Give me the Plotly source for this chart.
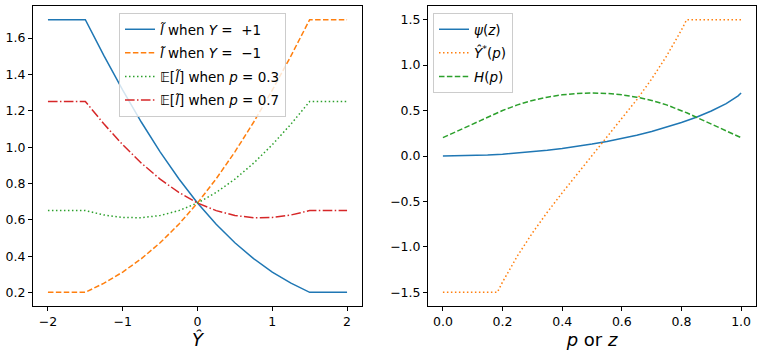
import plotly.graph_objects as go

# ---- Left panel data ----
y_hat = [-2, -1.75, -1.5, -1.25, -1, -0.75, -0.5, -0.25, 0, 0.25, 0.5, 0.75, 1, 1.25, 1.5, 1.75, 2]
loss_pos = [1.7014, 1.7014, 1.7014, 1.5019, 1.3133, 1.1369, 0.9741, 0.8260, 0.6931,
            0.5760, 0.4741, 0.3869, 0.3133, 0.2519, 0.2014, 0.2014, 0.2014]
loss_neg = [0.2014, 0.2014, 0.2014, 0.2519, 0.3133, 0.3869, 0.4741, 0.5760, 0.6931,
            0.8260, 0.9741, 1.1369, 1.3133, 1.5019, 1.7014, 1.7014, 1.7014]
exp_p03 = [0.6514, 0.6514, 0.6514, 0.6269, 0.6133, 0.6119, 0.6241, 0.6510, 0.6931,
           0.7510, 0.8241, 0.9119, 1.0133, 1.1269, 1.2514, 1.2514, 1.2514]
exp_p07 = [1.2514, 1.2514, 1.2514, 1.1269, 1.0133, 0.9119, 0.8241, 0.7510, 0.6931,
           0.6510, 0.6241, 0.6119, 0.6133, 0.6269, 0.6514, 0.6514, 0.6514]

# ---- Right panel data ----
z_vals = [0, 0.05, 0.1, 0.15, 0.2, 0.25, 0.3, 0.35, 0.4, 0.45, 0.5, 0.55, 0.6, 0.65,
          0.7, 0.75, 0.8, 0.85, 0.9, 0.95, 0.975, 0.99, 1.0]
psi_vals = [0, 0.0013, 0.0050, 0.0113, 0.0201, 0.0316, 0.0457, 0.0626, 0.0823, 0.1050,
            0.1308, 0.1599, 0.1927, 0.2294, 0.2704, 0.3164, 0.3680, 0.4267, 0.4946,
            0.5762, 0.6259, 0.6617, 0.6931]
p_vals = [0, 0.05, 0.1, 0.15, 0.1824, 0.2, 0.25, 0.3, 0.35, 0.4, 0.45, 0.5, 0.55, 0.6,
          0.65, 0.7, 0.75, 0.8, 0.8176, 0.85, 0.9, 0.95, 1.0]
yhat_star = [-1.5, -1.5, -1.5, -1.5, -1.5, -1.3863, -1.0986, -0.8473, -0.6190, -0.4055,
             -0.2007, 0, 0.2007, 0.4055, 0.6190, 0.8473, 1.0986, 1.3863, 1.5, 1.5, 1.5, 1.5, 1.5]
h_vals = [0.2014, 0.2764, 0.3514, 0.4264, 0.4751, 0.5004, 0.5623, 0.6109, 0.6474, 0.6730,
          0.6881, 0.6931, 0.6881, 0.6730, 0.6474, 0.6109, 0.5623, 0.5004, 0.4751, 0.4264,
          0.3514, 0.2764, 0.2014]

NB = "\u00a0"
left_names = ["<i>l̃</i> when <i>Y</i>" + NB + "=" + NB + NB + "+1",
              "<i>l̃</i> when <i>Y</i>" + NB + "=" + NB + NB + "−1",
              "𝔼[<i>l̃</i>] when <i>p</i>" + NB + "=" + NB + "0.3",
              "𝔼[<i>l̃</i>] when <i>p</i>" + NB + "=" + NB + "0.7"]
right_names = ["<i>ψ</i>(<i>z</i>)", "<i>Ŷ</i><sup>*</sup>(<i>p</i>)", "<i>H</i>(<i>p</i>)"]

C = ["#1f77b4", "#ff7f0e", "#2ca02c", "#d62728"]
DASHED = "5.5px,2.4px"
DOTTED = "1.5px,2.5px"
DASHDOT = "9.6px,2.4px,1.5px,2.4px"
LW = 1.5
FONT = "DejaVu Sans"
FS = 12.5
LFS = 13.5
W, H = 763, 355

fig = go.Figure()

left_series = [(loss_pos, C[0], "solid"), (loss_neg, C[1], DASHED),
               (exp_p03, C[2], DOTTED), (exp_p07, C[3], DASHDOT)]
for i, (ys, col, dash) in enumerate(left_series):
    fig.add_trace(go.Scatter(x=y_hat, y=ys, mode="lines", name=left_names[i],
                             line=dict(color=col, width=LW, dash=dash),
                             xaxis="x", yaxis="y", legend="legend",
                             legendgroup="L%d" % i))

right_series = [(z_vals, psi_vals, C[0], "solid"), (p_vals, yhat_star, C[1], DOTTED),
                (p_vals, h_vals, C[2], DASHED)]
for i, (xs, ys, col, dash) in enumerate(right_series):
    fig.add_trace(go.Scatter(x=xs, y=ys, mode="lines", name=right_names[i],
                             line=dict(color=col, width=LW, dash=dash),
                             xaxis="x2", yaxis="y2", legend="legend2",
                             legendgroup="R%d" % i))

ax_common = dict(showgrid=False, zeroline=False, showline=True, linecolor="black",
                 linewidth=1, mirror=True, ticks="outside", ticklen=4, tickwidth=1,
                 tickcolor="black", tickfont=dict(family=FONT, size=FS, color="black"))

ytop = 1 - 6 / H
ybot = 1 - 306 / H

legend_common = dict(xanchor="left", yanchor="top",
                     bgcolor="rgba(255,255,255,0.8)", bordercolor="#cccccc", borderwidth=1,
                     font=dict(family=FONT, size=LFS, color="black"), tracegroupgap=3,
                     itemwidth=30)

fig.update_layout(
    width=W, height=H, margin=dict(l=0, r=0, t=0, b=0),
    paper_bgcolor="white", plot_bgcolor="white",
    font=dict(family=FONT, color="black"),
    xaxis=dict(domain=[33 / W, 362 / W], range=[-2.2, 2.2], tickvals=[-2, -1, 0, 1, 2],
               title=dict(text="<i>Ŷ</i>", font=dict(family=FONT, size=18), standoff=4),
               anchor="y", **ax_common),
    yaxis=dict(domain=[ybot, ytop], range=[0.1264, 1.7764],
               tickvals=[0.2, 0.4, 0.6, 0.8, 1.0, 1.2, 1.4, 1.6], tickformat=".1f",
               anchor="x", **ax_common),
    xaxis2=dict(domain=[428 / W, 756 / W], range=[-0.05, 1.05],
                tickvals=[0, 0.2, 0.4, 0.6, 0.8, 1.0], tickformat=".1f",
                title=dict(text="<i>p</i> or <i>z</i>", font=dict(family=FONT, size=18), standoff=4),
                anchor="y2", **ax_common),
    yaxis2=dict(domain=[ybot, ytop], range=[-1.65, 1.65],
                tickvals=[-1.5, -1.0, -0.5, 0.0, 0.5, 1.0, 1.5], tickformat=".1f",
                anchor="x2", **ax_common),
    legend=dict(x=119 / W, y=1 - 13 / H, **legend_common),
    legend2=dict(x=433 / W, y=1 - 13 / H, **legend_common),
    showlegend=True,
)

fig.write_html("out.html")
